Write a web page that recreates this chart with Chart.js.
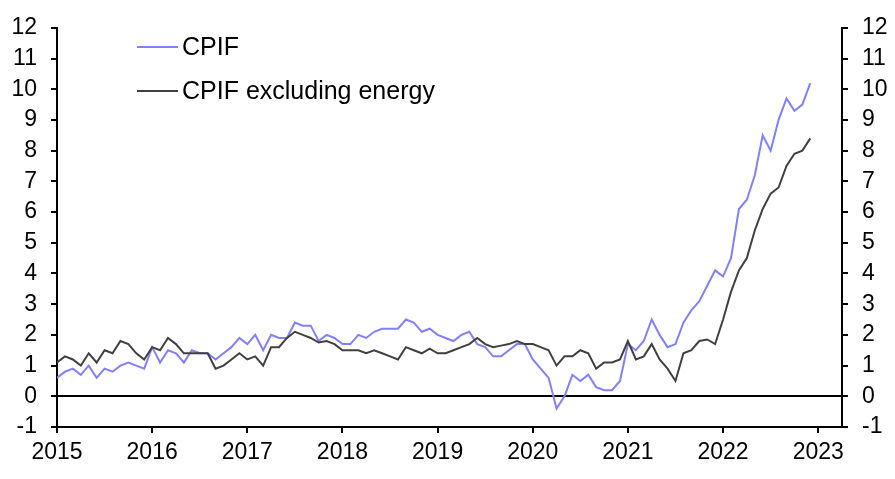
<!DOCTYPE html>
<html>
<head>
<meta charset="utf-8">
<script src="https://cdn.jsdelivr.net/npm/chart.js@4.4.1/dist/chart.umd.min.js"></script>
<style>
  html, body { margin: 0; padding: 0; background: #fff; }
  #wrap { width: 895px; height: 479px; position: relative; }
</style>
</head>
<body>
<div id="wrap"><canvas id="cpifChart"></canvas></div>
<script>
// monthly, Jan 2015 .. Dec 2022 (y/y %)
const cpif = [
    0.6, 0.8, 0.9, 0.7, 1.0, 0.6, 0.9, 0.8, 1.0, 1.1, 1.0, 0.9,
    1.6, 1.1, 1.5, 1.4, 1.1, 1.5, 1.4, 1.4, 1.2, 1.4, 1.6, 1.9,
    1.7, 2.0, 1.5, 2.0, 1.9, 1.9, 2.4, 2.3, 2.3, 1.8, 2.0, 1.9,
    1.7, 1.7, 2.0, 1.9, 2.1, 2.2, 2.2, 2.2, 2.5, 2.4, 2.1, 2.2,
    2.0, 1.9, 1.8, 2.0, 2.1, 1.7, 1.6, 1.3, 1.3, 1.5, 1.7, 1.7,
    1.2, 0.9, 0.6, -0.4, 0.0, 0.7, 0.5, 0.7, 0.3, 0.2, 0.2, 0.5,
    1.7, 1.5, 1.8, 2.5, 2.0, 1.6, 1.7, 2.4, 2.8, 3.1, 3.6, 4.1,
    3.9, 4.5, 6.1, 6.4, 7.2, 8.5, 8.0, 9.0, 9.7, 9.3, 9.5, 10.2
];
const cpifExEnergy = [
    1.1, 1.3, 1.2, 1.0, 1.4, 1.1, 1.5, 1.4, 1.8, 1.7, 1.4, 1.2,
    1.6, 1.5, 1.9, 1.7, 1.4, 1.4, 1.4, 1.4, 0.9, 1.0, 1.2, 1.4,
    1.2, 1.3, 1.0, 1.6, 1.6, 1.9, 2.1, 2.0, 1.9, 1.75, 1.8, 1.7,
    1.5, 1.5, 1.5, 1.4, 1.5, 1.4, 1.3, 1.2, 1.6, 1.5, 1.4, 1.55,
    1.4, 1.4, 1.5, 1.6, 1.7, 1.9, 1.7, 1.6, 1.65, 1.7, 1.8, 1.7,
    1.7, 1.6, 1.5, 1.0, 1.3, 1.3, 1.5, 1.4, 0.9, 1.1, 1.1, 1.2,
    1.8, 1.2, 1.3, 1.7, 1.2, 0.9, 0.5, 1.4, 1.5, 1.8, 1.85, 1.7,
    2.5, 3.4, 4.1, 4.5, 5.4, 6.1, 6.6, 6.8, 7.5, 7.9, 8.0, 8.4
];
const yearLabels = [2015, 2016, 2017, 2018, 2019, 2020, 2021, 2022, 2023];
const seriesNames = ["CPIF", "CPIF excluding energy"];
const seriesColors = ["#8080ff", "#404040"];

const FONT = "'Liberation Sans', Arial, sans-serif";

function toPoints(arr) {
    return arr.map((v, i) => ({ x: i, y: v }));
}

// legend drawn inside the plot, top left
const insideLegend = {
    id: 'insideLegend',
    afterDraw(chart) {
        const ctx = chart.ctx;
        ctx.save();
        ctx.font = "25px " + FONT;
        ctx.textBaseline = 'middle';
        ctx.fillStyle = '#000';
        seriesNames.forEach((name, i) => {
            const y = 47 + i * 44;
            ctx.strokeStyle = seriesColors[i];
            ctx.lineWidth = 2;
            ctx.beginPath();
            ctx.moveTo(137, y);
            ctx.lineTo(178, y);
            ctx.stroke();
            ctx.fillText(name, 182, y + 1);
        });
        ctx.restore();
    }
};

const yTicks = {
    stepSize: 1,
    color: '#000',
    font: { family: FONT, size: 23 },
};

new Chart(document.getElementById('cpifChart'), {
    type: 'line',
    data: {
        datasets: [
            {
                label: seriesNames[1],
                data: toPoints(cpifExEnergy),
                borderColor: seriesColors[1],
                borderWidth: 2,
                pointRadius: 0,
                tension: 0,
            },
            {
                label: seriesNames[0],
                data: toPoints(cpif),
                borderColor: seriesColors[0],
                borderWidth: 2,
                pointRadius: 0,
                tension: 0,
            },
        ],
    },
    options: {
        responsive: true,
        maintainAspectRatio: false,
        animation: false,
        layout: { padding: { top: 21, left: 0, right: 0, bottom: 0 } },
        plugins: { legend: { display: false }, tooltip: { enabled: false } },
        scales: {
            x: {
                type: 'linear',
                min: 0,
                max: 99,
                afterBuildTicks: function (scale) {
                    scale.ticks = yearLabels.map((y, i) => ({ value: i * 12 }));
                },
                afterFit: function (scale) { scale.height = 52; },
                ticks: {
                    color: '#000',
                    padding: 6,
                    maxRotation: 0,
                    autoSkip: false,
                    font: { family: FONT, size: 23 },
                    callback: function (value) { return String(2015 + value / 12); },
                },
                grid: { drawOnChartArea: false, tickLength: 6, tickColor: '#000', lineWidth: 2 },
                border: { color: '#000', width: 2 },
            },
            y: {
                position: 'left',
                min: -1,
                max: 12,
                afterFit: function (scale) { scale.width = 57; },
                ticks: Object.assign({ padding: 14 }, yTicks),
                grid: {
                    drawOnChartArea: true,
                    tickLength: 6,
                    lineWidth: 2,
                    tickColor: '#000',
                    color: function (ctx) {
                        return ctx.tick && ctx.tick.value === 0 ? '#000' : 'rgba(0,0,0,0)';
                    },
                },
                border: { color: '#000', width: 2 },
            },
            y2: {
                position: 'right',
                min: -1,
                max: 12,
                afterFit: function (scale) { scale.width = 53; },
                ticks: Object.assign({ padding: 14 }, yTicks),
                grid: { drawOnChartArea: false, tickLength: 6, lineWidth: 2, tickColor: '#000' },
                border: { color: '#000', width: 2 },
            },
        },
    },
    plugins: [insideLegend],
});
</script>
</body>
</html>
